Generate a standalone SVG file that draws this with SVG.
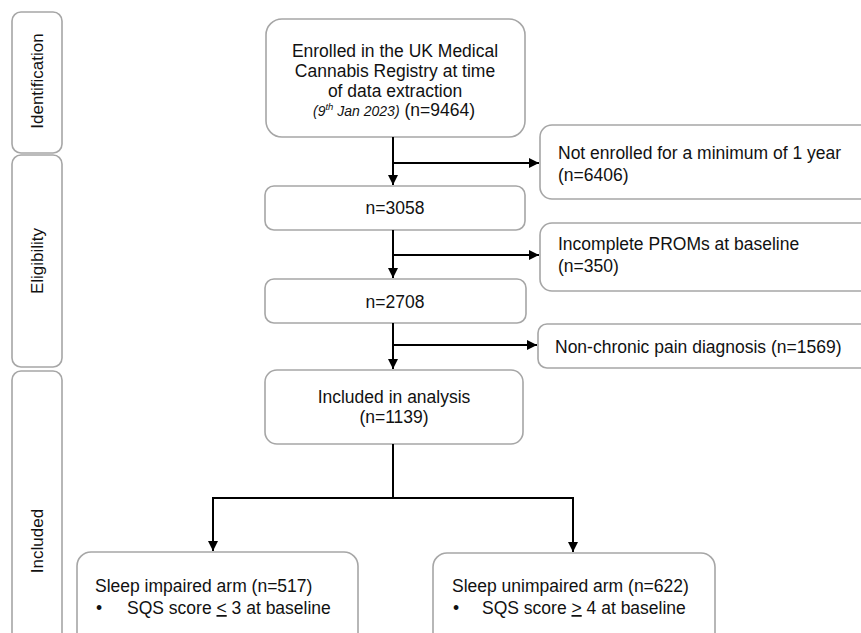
<svg xmlns="http://www.w3.org/2000/svg" width="861" height="633" viewBox="0 0 861 633">
<defs>
<marker id="ah" viewBox="0 0 10 10" refX="10" refY="5" markerWidth="10" markerHeight="10" markerUnits="userSpaceOnUse" orient="auto">
<path d="M0,0 L10,5 L0,10 z" fill="#000"/>
</marker>
<style>
.box{fill:#fff;stroke:#a6a6a6;stroke-width:1.6}
.t{font-family:"Liberation Sans",Arial,sans-serif;font-size:17.5px;fill:#111}
.s{font-family:"Liberation Sans",Arial,sans-serif;font-size:17px;fill:#111}
.c{text-anchor:middle}
.ln{fill:none;stroke:#000;stroke-width:2}
</style>
</defs>
<rect width="861" height="633" fill="#fff"/>
<g id="stage-identification">
<rect class="box" x="12" y="12" width="50" height="141" rx="9"/>
<text class="s c" transform="translate(43,81) rotate(-90)">Identification</text>
</g>
<g id="stage-eligibility">
<rect class="box" x="12" y="155" width="50" height="212" rx="9"/>
<text class="s c" transform="translate(43,261) rotate(-90)">Eligibility</text>
</g>
<g id="stage-included">
<rect class="box" x="12" y="371" width="50" height="340" rx="9"/>
<text class="s c" transform="translate(43,541) rotate(-90)">Included</text>
</g>
<g id="enrolled">
<rect class="box" x="266" y="19" width="259" height="118" rx="16"/>
<text class="t c" x="395" y="57">Enrolled in the UK Medical</text>
<text class="t c" x="395" y="77">Cannabis Registry at time</text>
<text class="t c" x="395" y="97">of data extraction</text>
<text class="t" x="313" y="116"><tspan font-size="14" font-style="italic">(9<tspan font-size="9.5" dy="-6">th</tspan><tspan dy="6"> Jan 2023)</tspan></tspan> (n=9464)</text>
</g>
<g id="n3058">
<rect class="box" x="265" y="186" width="260" height="44" rx="9"/>
<text class="t c" x="395" y="214">n=3058</text>
</g>
<g id="n2708">
<rect class="box" x="265" y="279" width="261" height="44" rx="9"/>
<text class="t c" x="395" y="308">n=2708</text>
</g>
<g id="included">
<rect class="box" x="265" y="370" width="258" height="74" rx="12"/>
<text class="t c" x="394" y="403">Included in analysis</text>
<text class="t c" x="394" y="423">(n=1139)</text>
</g>
<g id="excl-1year">
<rect class="box" x="540" y="125" width="340" height="74" rx="12"/>
<text class="t" x="558" y="159">Not enrolled for a minimum of 1 year</text>
<text class="t" x="558" y="181">(n=6406)</text>
</g>
<g id="excl-proms">
<rect class="box" x="540" y="223" width="340" height="68" rx="12"/>
<text class="t" x="558" y="250">Incomplete PROMs at baseline</text>
<text class="t" x="558" y="272">(n=350)</text>
</g>
<g id="excl-pain">
<rect class="box" x="538" y="324" width="342" height="44" rx="9"/>
<text class="t" x="555" y="353">Non-chronic pain diagnosis (n=1569)</text>
</g>
<g id="arm-impaired">
<rect class="box" x="77" y="552" width="281" height="110" rx="14"/>
<text class="t" x="95" y="592">Sleep impaired arm (n=517)</text>
<text class="t" x="96" y="614">•</text>
<text class="t" x="127" y="614">SQS score <tspan text-decoration="underline">&lt;</tspan> 3 at baseline</text>
</g>
<g id="arm-unimpaired">
<rect class="box" x="433" y="553" width="282" height="110" rx="14"/>
<text class="t" x="452" y="592">Sleep unimpaired arm (n=622)</text>
<text class="t" x="453" y="614">•</text>
<text class="t" x="482" y="614">SQS score <tspan text-decoration="underline">&gt;</tspan> 4 at baseline</text>
</g>
<g id="connectors">
<path class="ln" d="M393,137 V185" marker-end="url(#ah)"/>
<path class="ln" d="M393,163 H539" marker-end="url(#ah)"/>
<path class="ln" d="M393,230 V278" marker-end="url(#ah)"/>
<path class="ln" d="M393,255 H539" marker-end="url(#ah)"/>
<path class="ln" d="M393,323 V369" marker-end="url(#ah)"/>
<path class="ln" d="M393,345 H537" marker-end="url(#ah)"/>
<path class="ln" d="M393,444 V498"/>
<path class="ln" d="M213,551 V498 H573 V552" marker-end="url(#ah)"/>
<path class="ln" d="M213,498 V551" marker-end="url(#ah)"/>
</g>
</svg>
